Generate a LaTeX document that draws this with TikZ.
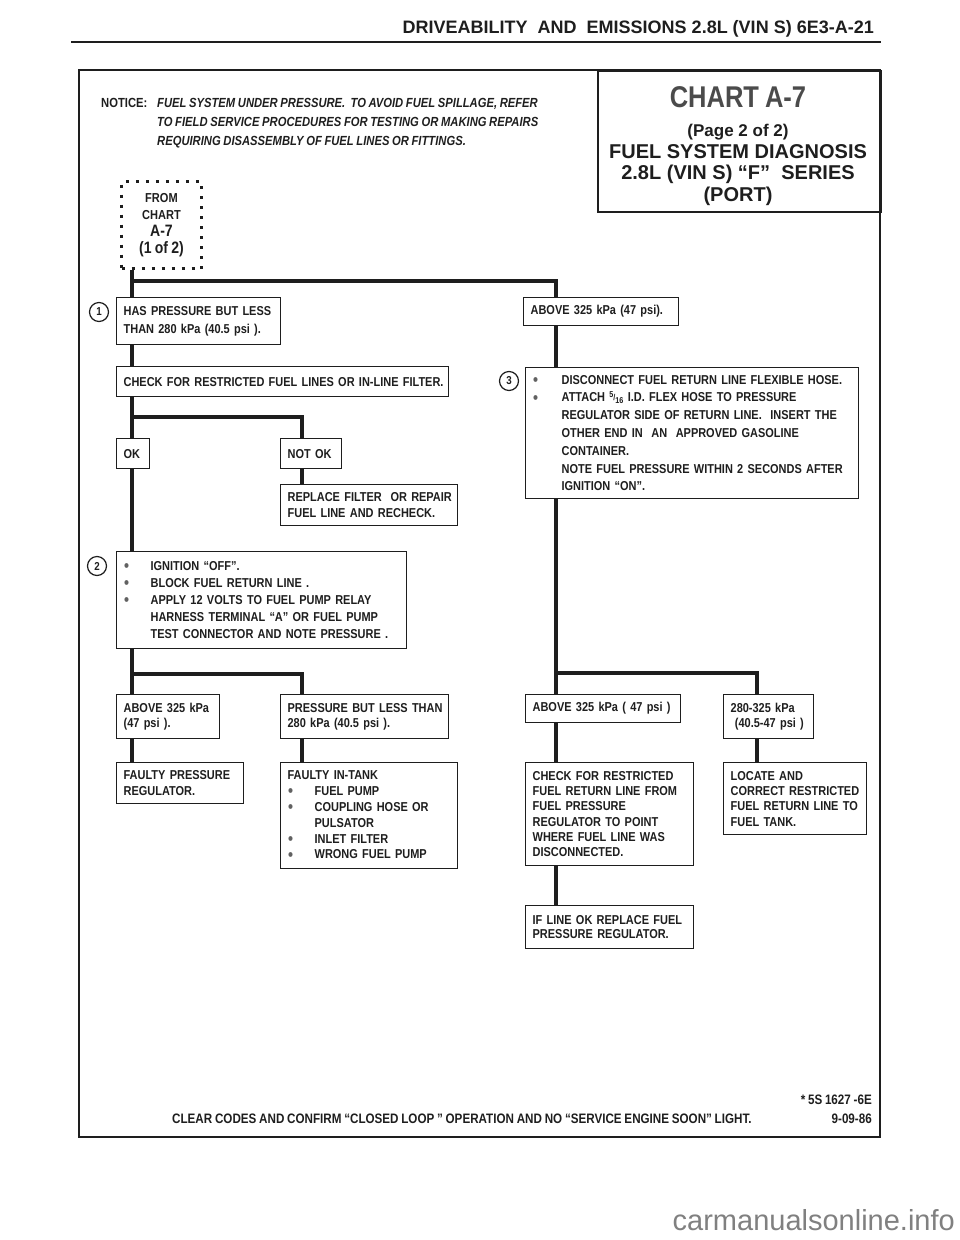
\documentclass[tikz,border=0pt]{standalone}
\usepackage{fontspec}
\setmainfont[FakeStretch=0.85, WordSpace=0.85]{Liberation Sans}
\newfontfamily\widefont{Liberation Sans}
\definecolor{ink}{HTML}{1E1E1E}
\definecolor{wmgray}{HTML}{808080}
\newcommand\kbul[1][26pt]{\makebox[#1][l]{\hspace{0.5pt}\textcolor{ink!70}{\raisebox{-1.2pt}{\scalebox{1.3}{\textbullet}}}}}
\newcommand\kind[1][26pt]{\hspace*{#1}}
\newcommand\kfrac{{\fontsize{8.5}{8.5}\selectfont\raisebox{4pt}{5}\raisebox{1pt}{/}\raisebox{-1.5pt}{16}}}
\tikzset{
  box/.style={draw=ink, line width=1.3pt, fill=white, anchor=north west,
    inner xsep=7pt, inner ysep=0pt, align=left, text=ink,
    font=\bfseries\fontsize{12.9}{15.5}\selectfont},
  conn/.style={draw=ink, line width=3.4pt},
  frameline/.style={draw=ink, line width=2.2pt},
  numcirc/.style={circle, draw=ink, line width=1.2pt, minimum size=19pt, inner sep=0pt,
    text=ink, font=\bfseries\fontsize{11.5}{11.5}\selectfont},
  plain/.style={text=ink, inner sep=0pt, font=\bfseries\fontsize{12.9}{15.5}\selectfont},
  ttl/.style={text=ink, inner sep=0pt, anchor=base}
}
\begin{document}
\begin{tikzpicture}[x=1pt,y=-1pt]
\useasboundingbox (0,0) rectangle (960,1240);
% header
\node[plain, anchor=base east, font=\widefont\bfseries\fontsize{18}{18}\selectfont] (hdr) at (874,33)
  {DRIVEABILITY\ \ AND\ \ EMISSIONS 2.8L (VIN S) 6E3-A-21};
\coordinate (hrL) at (71,42);
\coordinate (hrR) at (881,42);
\draw[ink, line width=2.4pt] (hrL) -- (hrR);
% frame
\draw[frameline] (79,70) rectangle (880,1137);
% title box
\node[draw=ink, line width=1.8pt, anchor=north west, minimum width=283pt, minimum height=141pt, inner sep=0pt] (title) at (597,70) {};
\node[ttl, text=ink!80, font=\bfseries\fontsize{30}{30}\selectfont] (t1) at (738,107.5) {CHART A-7};
\node[ttl, font=\widefont\bfseries\fontsize{17}{17}\selectfont] (t2) at (738,136) {(Page 2 of 2)};
\node[ttl, font=\widefont\bfseries\fontsize{20}{20}\selectfont] (t3) at (738,158) {FUEL SYSTEM DIAGNOSIS};
\node[ttl, font=\widefont\bfseries\fontsize{20}{20}\selectfont] (t4) at (738,179.5) {2.8L (VIN S) “F”\ \ SERIES};
\node[ttl, font=\widefont\bfseries\fontsize{20}{20}\selectfont] (t5) at (738,201) {(PORT)};
% notice
\node[plain, anchor=north west, align=left, font=\bfseries\fontsize{13.2}{19}\selectfont] (notice) at (101,98)
  {\makebox[56pt][l]{NOTICE:}\textit{FUEL SYSTEM UNDER PRESSURE.\ \ TO AVOID FUEL SPILLAGE, REFER}\\
   \kind[56pt]\textit{TO FIELD SERVICE PROCEDURES FOR TESTING OR MAKING REPAIRS}\\
   \kind[56pt]\textit{REQUIRING DISASSEMBLY OF FUEL LINES OR FITTINGS.}};
% from chart
\node[draw=ink, line width=3pt, dash pattern=on 3pt off 7pt, anchor=north west,
  minimum width=80pt, minimum height=87pt, inner sep=0pt, align=center, text=ink,
  font=\bfseries\fontsize{13}{17}\selectfont] (from) at (120,180)
  {FROM\\CHART\\{\fontsize{16.5}{17}\selectfont A-7}\\{\fontsize{16.5}{17}\selectfont (1 of 2)}};
% x positions of trunks
\coordinate (xL) at (132,0);
\coordinate (xN) at (302,0);
\coordinate (xR) at (556,0);
\coordinate (xR2) at (757,0);
% left column boxes
\node[box, text width=150pt, minimum height=47pt, font=\bfseries\fontsize{12.9}{18}\selectfont] (b1) at (116,297)
  {\mbox{HAS PRESSURE BUT LESS}\\\mbox{THAN 280 kPa (40.5 psi ).}};
\node[numcirc] (c1) at (99,312) {1};
\node[box, text width=141pt, minimum height=28pt] (a325) at (523,297) {\mbox{ABOVE 325 kPa (47 psi).}};
\node[box, text width=318pt, minimum height=30pt] (chk) at (116,366) {\mbox{CHECK FOR RESTRICTED FUEL LINES OR IN-LINE FILTER.}};
\node[box, text width=19pt, minimum height=30pt] (ok) at (116,438) {\mbox{OK}};
\node[box, text width=47pt, minimum height=30pt] (notok) at (280,438) {\mbox{NOT OK}};
\node[box, text width=163pt, minimum height=41pt, font=\bfseries\fontsize{12.9}{16}\selectfont] (repl) at (280,484)
  {\mbox{REPLACE FILTER\ \ OR REPAIR}\\\mbox{FUEL LINE AND RECHECK.}};
\node[box, text width=276pt, minimum height=97pt, font=\bfseries\fontsize{12.9}{17}\selectfont] (b2) at (116,551)
  {\mbox{\kbul[27pt]IGNITION “OFF”.}\\
   \mbox{\kbul[27pt]BLOCK FUEL RETURN LINE .}\\
   \mbox{\kbul[27pt]APPLY 12 VOLTS TO FUEL PUMP RELAY}\\
   \mbox{\kind[27pt]HARNESS TERMINAL “A” OR FUEL PUMP}\\
   \mbox{\kind[27pt]TEST CONNECTOR AND NOTE PRESSURE .}};
\node[numcirc] (c2) at (97,566) {2};
\node[box, text width=89pt, minimum height=44pt] (a325b) at (116,694)
  {\mbox{ABOVE 325 kPa}\\\mbox{(47 psi ).}};
\node[box, text width=154pt, minimum height=44pt] (plt) at (280,694)
  {\mbox{PRESSURE BUT LESS THAN}\\\mbox{280 kPa (40.5 psi ).}};
\node[box, text width=113pt, minimum height=41pt] (fpr) at (116,762)
  {\mbox{FAULTY PRESSURE}\\\mbox{REGULATOR.}};
\node[box, text width=163pt, minimum height=106pt, font=\bfseries\fontsize{12.9}{15.8}\selectfont] (fit) at (280,762)
  {\mbox{FAULTY IN-TANK}\\
   \mbox{\kbul[27pt]FUEL PUMP}\\
   \mbox{\kbul[27pt]COUPLING HOSE OR}\\
   \mbox{\kind[27pt]PULSATOR}\\
   \mbox{\kbul[27pt]INLET FILTER}\\
   \mbox{\kbul[27pt]WRONG FUEL PUMP}};
% right column boxes
\node[box, text width=319pt, minimum height=131pt, font=\bfseries\fontsize{12.9}{17.8}\selectfont] (b3) at (525,367)
  {\mbox{\kbul[29pt]DISCONNECT FUEL RETURN LINE FLEXIBLE HOSE.}\\
   \mbox{\kbul[29pt]ATTACH \kfrac\ I.D. FLEX HOSE TO PRESSURE}\\
   \mbox{\kind[29pt]REGULATOR SIDE OF RETURN LINE.\ \ INSERT THE}\\
   \mbox{\kind[29pt]OTHER END IN\ \ AN\ \ APPROVED GASOLINE}\\
   \mbox{\kind[29pt]CONTAINER.}\\
   \mbox{\kind[29pt]NOTE FUEL PRESSURE WITHIN 2 SECONDS AFTER}\\
   \mbox{\kind[29pt]IGNITION “ON”.}};
\node[numcirc] (c3) at (509,381) {3};
\node[box, text width=141pt, minimum height=28pt] (a325c) at (525,694) {\mbox{ABOVE 325 kPa ( 47 psi )}};
\node[box, text width=76pt, minimum height=44pt] (r280) at (723,694)
  {\mbox{280-325 kPa}\\\mbox{\ (40.5-47 psi )}};
\node[box, text width=154pt, minimum height=103pt, font=\bfseries\fontsize{12.9}{15.3}\selectfont] (chkr) at (525,762)
  {\mbox{CHECK FOR RESTRICTED}\\\mbox{FUEL RETURN LINE FROM}\\\mbox{FUEL PRESSURE}\\
   \mbox{REGULATOR TO POINT}\\\mbox{WHERE FUEL LINE WAS}\\\mbox{DISCONNECTED.}};
\node[box, text width=129pt, minimum height=72pt, font=\bfseries\fontsize{12.9}{15.3}\selectfont] (loc) at (723,762)
  {\mbox{LOCATE AND}\\\mbox{CORRECT RESTRICTED}\\\mbox{FUEL RETURN LINE TO}\\\mbox{FUEL TANK.}};
\node[box, text width=154pt, minimum height=43pt, font=\bfseries\fontsize{12.9}{14.5}\selectfont] (ifl) at (525,905)
  {\mbox{IF LINE OK REPLACE FUEL}\\\mbox{PRESSURE REGULATOR.}};
% junctions
\coordinate (jTop) at (132,281);
\coordinate (jMid) at (132,417);
\coordinate (jLow) at (132,674);
\coordinate (jR) at (556,673);
% connectors, left
\draw[conn] (from.south -| xL) -- (b1.north -| xL);
\draw[conn] (jTop) -| (a325.north -| xR);
\draw[conn] (b1.south -| xL) -- (chk.north -| xL);
\draw[conn] (chk.south -| xL) -- (ok.north -| xL);
\draw[conn] (jMid) -| (notok.north -| xN);
\draw[conn] (notok.south -| xN) -- (repl.north -| xN);
\draw[conn] (ok.south -| xL) -- (b2.north -| xL);
\draw[conn] (b2.south -| xL) -- (a325b.north -| xL);
\draw[conn] (jLow) -| (plt.north -| xN);
\draw[conn] (a325b.south -| xL) -- (fpr.north -| xL);
\draw[conn] (plt.south -| xN) -- (fit.north -| xN);
% connectors, right
\draw[conn] (a325.south -| xR) -- (b3.north -| xR);
\draw[conn] (b3.south -| xR) -- (a325c.north -| xR);
\draw[conn] (jR) -| (r280.north -| xR2);
\draw[conn] (a325c.south -| xR) -- (chkr.north -| xR);
\draw[conn] (r280.south -| xR2) -- (loc.north -| xR2);
\draw[conn] (chkr.south -| xR) -- (ifl.north -| xR);
% footer
\node[plain, anchor=base east, font=\bfseries\fontsize{13.7}{13.7}\selectfont] (code) at (872,1104) {* 5S 1627 -6E};
\node[plain, anchor=base east, font=\bfseries\fontsize{13.7}{13.7}\selectfont] (date) at (872,1123) {9-09-86};
\node[plain, anchor=base west, font=\bfseries\fontsize{13.7}{13.7}\selectfont] (foot) at (172,1123)
  {CLEAR CODES AND CONFIRM “CLOSED LOOP ” OPERATION AND NO “SERVICE ENGINE SOON” LIGHT.};
% watermark
\node[anchor=base east, inner sep=0pt, text=wmgray, font=\widefont\fontsize{29}{29}\selectfont] (wm) at (955,1230) {carmanualsonline.info};
\end{tikzpicture}
\end{document}
